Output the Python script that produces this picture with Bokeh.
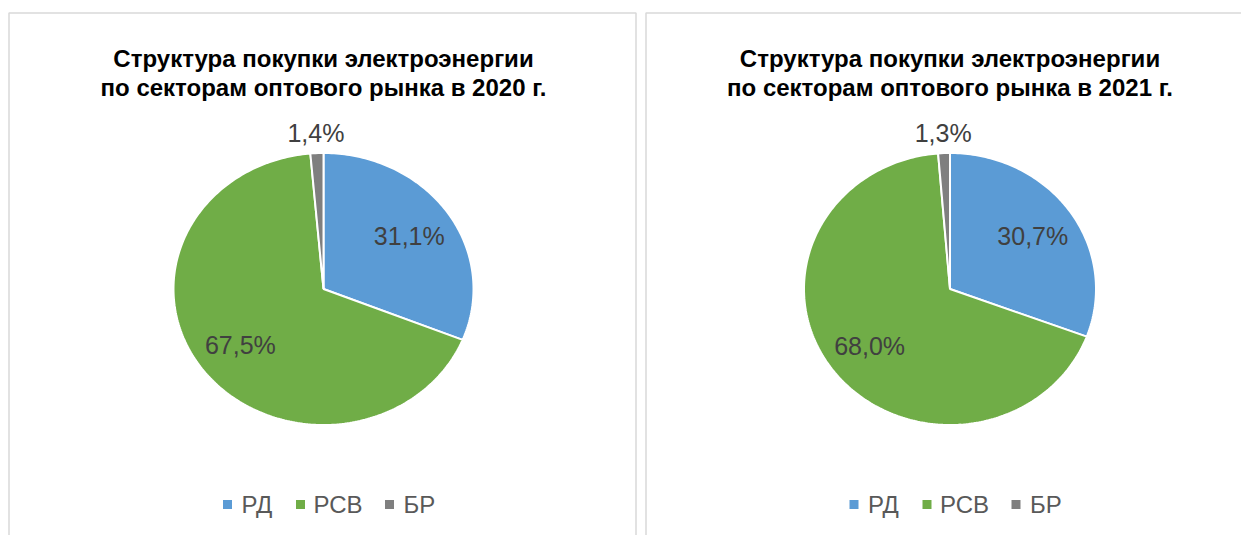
import numpy as np
from bokeh.plotting import figure
from bokeh.models import Range1d
from bokeh.core.properties import value
from bokeh.embed import file_html
from bokeh.resources import INLINE

# ---- data ----
categories = ["РД", "РСВ", "БР"]
shares_2020 = [31.1, 67.5, 1.4]
shares_2021 = [30.7, 68.0, 1.3]
labels_2020 = ["31,1%", "67,5%", "1,4%"]
labels_2021 = ["30,7%", "68,0%", "1,3%"]
title_2020 = ["Структура покупки электроэнергии", "по секторам оптового рынка в 2020 г."]
title_2021 = ["Структура покупки электроэнергии", "по секторам оптового рынка в 2021 г."]
colors = ["#5B9BD5", "#70AD47", "#7F7F7F"]

W, H = 1241, 535
p = figure(width=W, height=H, output_backend="svg", toolbar_location=None,
           x_range=Range1d(0, W), y_range=Range1d(H, 0),
           min_border=0, outline_line_color=None)
p.axis.visible = False
p.grid.visible = False
p.background_fill_color = "white"
p.border_fill_color = "white"

# panel borders
p.multi_line(xs=[[8.5, 8.5, 635.5, 635.5], [1245, 645.5, 645.5]],
             ys=[[545, 12.5, 12.5, 545], [12.5, 12.5, 545]],
             line_color="#D9D9D9", line_width=1.5)


def draw_pie(cx, cy, rx, ry, shares, labels, title):
    total = float(sum(shares))
    xs, ys, lx, ly = [], [], [], []
    start = 0.0
    for i, s in enumerate(shares):
        frac = s / total
        end = start + frac * 360.0
        t = np.radians(np.linspace(start, end, max(int(frac * 360), 2) + 1))
        px = [cx] + list(cx + rx * np.sin(t)) + [cx]
        py = [cy] + list(cy - ry * np.cos(t)) + [cy]
        xs.append(px)
        ys.append(py)
        mid = np.radians((start + end) / 2)
        f = 1.15 if frac < 0.05 else 0.69
        lx.append(cx + f * rx * np.sin(mid))
        ly.append(cy - f * ry * np.cos(mid))
        start = end
    p.patches(xs=xs, ys=ys, fill_color=colors, line_color="white", line_width=2)
    p.text(x=lx, y=ly, text=labels, text_align="center", text_baseline="middle",
           text_font=value("Liberation Sans"), text_font_size="25px", text_color="#404040")
    # title
    p.text(x=[cx, cx], y=[58, 87], text=title, text_align="center", text_baseline="alphabetic",
           text_font=value("Liberation Sans"), text_font_style="bold",
           text_font_size="24px", text_color="#000000")
    # legend
    sq_off = [-96, -23, 66]
    tx_off = [-82, -10, 80]
    p.scatter(x=[cx + o for o in sq_off], y=[504] * 3, marker="square", size=9,
              fill_color=colors, line_color=None)
    p.text(x=[cx + o for o in tx_off], y=[504] * 3, text=categories, text_align="left",
           text_baseline="middle", text_font=value("Liberation Sans"), text_font_size="24px",
           text_color="#595959")


draw_pie(323, 288.5, 150, 136, shares_2020, labels_2020, title_2020)
draw_pie(949.5, 288.5, 146, 136, shares_2021, labels_2021, title_2021)

open("out.html", "w").write(file_html(p, INLINE))
